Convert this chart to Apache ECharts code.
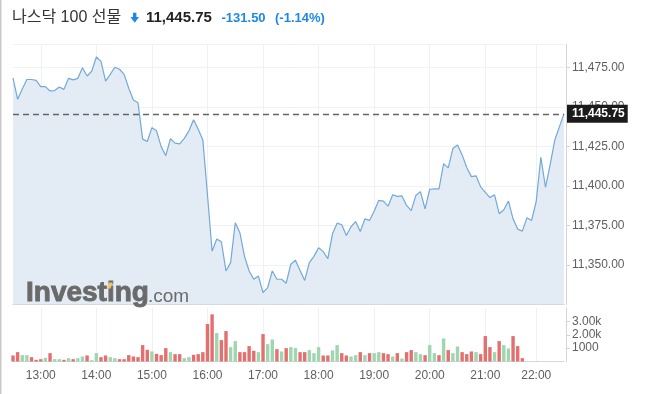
<!DOCTYPE html>
<html>
<head>
<meta charset="utf-8">
<script src="https://cdn.jsdelivr.net/npm/echarts@6/dist/echarts.min.js"></script>
<style>
html,body{margin:0;padding:0;background:#fff;}
#chart{width:649px;height:394px;}
</style>
</head>
<body>
<div id="chart"></div>
<script>
// ---------- data ----------
const titleText = '나스닥 100 선물';
const lastPriceText = '11,445.75';
const changeText = '-131.50';
const changePctText = '(-1.14%)';
const lastPrice = 11445.75;

const times = [
 '12:30','12:35','12:40','12:45','12:50','12:55',
 '13:00','13:05','13:10','13:15','13:20','13:25','13:30','13:35','13:40','13:45','13:50','13:55',
 '14:00','14:05','14:10','14:15','14:20','14:25','14:30','14:35','14:40','14:45','14:50','14:55',
 '15:00','15:05','15:10','15:15','15:20','15:25','15:30','15:35','15:40','15:45','15:50','15:55',
 '16:00','16:05','16:10','16:15','16:20','16:25','16:30','16:35','16:40','16:45','16:50','16:55',
 '17:00','17:05','17:10','17:15','17:20','17:25','17:30','17:35','17:40','17:45','17:50','17:55',
 '18:00','18:05','18:10','18:15','18:20','18:25','18:30','18:35','18:40','18:45','18:50','18:55',
 '19:00','19:05','19:10','19:15','19:20','19:25','19:30','19:35','19:40','19:45','19:50','19:55',
 '20:00','20:05','20:10','20:15','20:20','20:25','20:30','20:35','20:40','20:45','20:50','20:55',
 '21:00','21:05','21:10','21:15','21:20','21:25','21:30','21:35','21:40','21:45','21:55',
 '22:00','22:05','22:10','22:15','22:20','22:25','22:30'
];

const hourLabels = ['13:00','14:00','15:00','16:00','17:00','18:00','19:00','20:00','21:00','22:00'];

const prices = [
 11468.5,11455,11461.5,11467.5,11467.5,11467,
 11463,11463,11460.25,11460.5,11462.75,11461.25,11468.25,11467.25,11468.25,11475,11469.75,11472.75,
 11481.75,11479,11466.5,11470.75,11475.25,11474,11470.75,11462,11454.5,11452.75,11429.75,11428.25,
 11437,11435,11425,11419.25,11430,11427.25,11426.75,11430.25,11435,11442,11436,11429.25,
 11394.5,11358.75,11366.5,11364.75,11346.25,11351.5,11376.75,11370.5,11355.5,11346.25,11341,11343,
 11332.5,11335.75,11346.25,11341,11341,11338.5,11350.5,11353,11346.5,11340.25,11351.5,11355.5,
 11361,11358.5,11354,11369.75,11376.5,11375.5,11368.75,11374.25,11377.5,11371.25,11379.25,11378.25,
 11384,11391,11390.5,11387.25,11394.5,11393.5,11393.75,11387.75,11384.5,11394,11396.5,11385.5,
 11398,11398.25,11398.25,11414.25,11411.5,11423.75,11426,11419.75,11411.75,11406,11406.5,11399.5,
 11396,11392.75,11394.5,11382.5,11385,11390.5,11379.25,11372.75,11371.5,11380,11378.25,
 11390.25,11418.25,11399.25,11413.5,11429,11437.5,11445.75
];

const volumes = [
 450,700,475,475,325,125,175,275,625,175,
 175,125,250,175,250,375,450,100,625,325,
 450,325,250,175,175,475,375,325,1225,875,
 750,575,475,1000,700,550,550,250,325,500,
 550,700,2800,3525,2125,1600,2275,1075,1525,700,
 700,1150,800,700,2050,1300,1650,925,750,1000,
 1075,1000,700,700,850,625,1075,450,450,825,
 1225,625,450,375,475,700,475,625,625,700,
 625,550,375,625,225,700,850,700,550,475,
 1225,625,475,1725,850,625,1125,700,550,750,
 700,550,1900,1075,700,1525,1225,975,1900,1150,
 250
];

// 1 = up bar (green), 0 = down bar (red)
const volumeUp = [
 0,0,1,1,0,0,0,1,0,1,
 1,0,1,0,1,1,0,1,1,0,
 0,1,1,0,0,0,0,0,0,0,
 1,0,0,0,1,0,0,1,1,0,
 0,0,0,0,1,0,0,1,1,0,
 0,0,0,1,0,1,1,0,1,0,
 1,1,0,0,1,1,1,0,0,1,
 1,0,0,1,1,0,1,0,1,1,
 0,0,1,0,1,0,0,1,1,0,
 1,1,0,1,0,1,1,0,0,0,
 1,0,0,0,1,0,1,1,0,0,
 0
];

// ---------- styles ----------
const UP = '#9fd5b0', DOWN = '#e46f6f';
const BLUE = '#1e88e5';
const AXIS_TXT = '#5f5f5f';
const LOGO = '#6a6a6a';
const FONT = '"Liberation Sans", Arial, "Noto Sans CJK KR", sans-serif';

const fmtPrice = v => Number(v).toLocaleString('en-US', {minimumFractionDigits: 2, maximumFractionDigits: 2});
const isHour = (i, v) => hourLabels.includes(v);

const volData = times.map((t, i) => i < volumes.length ? {
  value: volumes[i],
  itemStyle: {color: volumeUp[i] ? UP : DOWN}
} : null);

const chart = echarts.init(document.getElementById('chart'), null, {renderer: 'canvas'});

chart.setOption({
  animation: false,
  backgroundColor: '#fff',
  textStyle: {fontFamily: FONT},
  grid: [
    {left: 13, right: 85, top: 44, height: 260.5},
    {left: 13, right: 85, top: 308, height: 53.5}
  ],
  xAxis: [
    {
      type: 'category', gridIndex: 0, data: times, boundaryGap: false,
      axisLine: {show: true, lineStyle: {color: '#c8c8c8'}},
      axisTick: {show: false},
      axisLabel: {show: false},
      splitLine: {show: true, interval: isHour, lineStyle: {color: '#eef0f2'}}
    },
    {
      type: 'category', gridIndex: 1, data: times, boundaryGap: false,
      axisLine: {show: true, lineStyle: {color: '#d8d8d8'}},
      axisTick: {show: false},
      axisLabel: {show: true, interval: isHour, color: AXIS_TXT, fontSize: 12, margin: 8, fontFamily: FONT},
      splitLine: {show: true, interval: isHour, lineStyle: {color: '#eef0f2'}}
    }
  ],
  yAxis: [
    {
      type: 'value', gridIndex: 0, position: 'right', offset: 2,
      min: 11325, max: 11490, interval: 25,
      axisLine: {show: true, lineStyle: {color: '#d4d4d4'}},
      axisTick: {show: true, length: 4, lineStyle: {color: '#d4d4d4'}},
      axisLabel: {
        show: true, color: AXIS_TXT, fontSize: 12, margin: 6, fontFamily: FONT,
        showMinLabel: false, showMaxLabel: false,
        formatter: v => (v % 25 === 0 ? fmtPrice(v) : '')
      },
      splitLine: {show: true, lineStyle: {color: '#f0f1f3'}}
    },
    {
      type: 'value', gridIndex: 1, position: 'right', offset: 2,
      min: 0, max: 4000, interval: 1000,
      axisLine: {show: true, lineStyle: {color: '#d4d4d4'}},
      axisTick: {show: true, length: 4, lineStyle: {color: '#d4d4d4'}},
      axisLabel: {
        show: true, color: AXIS_TXT, fontSize: 12, margin: 6, fontFamily: FONT,
        showMinLabel: false, showMaxLabel: false,
        formatter: v => (v >= 2000 ? (v / 1000).toFixed(2) + 'k' : String(v))
      },
      splitLine: {show: false}
    }
  ],
  series: [
    {
      type: 'line', xAxisIndex: 0, yAxisIndex: 0, data: prices,
      symbol: 'none', smooth: false,
      lineStyle: {color: '#72a9d9', width: 1.2},
      areaStyle: {color: '#e3ecf4', origin: 'start', opacity: 1},
      markLine: {
        silent: true, symbol: ['none', 'none'],
        lineStyle: {color: '#666', type: [6, 4], width: 1.3},
        label: {
          show: true, position: 'end', distance: 3,
          formatter: p => fmtPrice(p.value),
          backgroundColor: '#1b1b1b', color: '#fff', fontWeight: 'bold',
          fontSize: 12, fontFamily: FONT, padding: [3, 3, 3, 5]
        },
        data: [{yAxis: lastPrice}]
      },
      z: 2
    },
    {
      type: 'bar', xAxisIndex: 1, yAxisIndex: 1, data: volData,
      barWidth: 3.4
    }
  ],
  graphic: [
    {type: 'rect', shape: {x: 0, y: 0, width: 1.5, height: 394}, style: {fill: '#c9c9c9'}, z: 100},
    {type: 'text', x: 12, y: 17.5, style: {text: titleText, font: '16px ' + FONT, fill: '#333', textVerticalAlign: 'middle'}, z: 100},
    {type: 'polygon', shape: {points: [[133,12.8],[136.4,12.8],[136.4,17],[139,17],[134.7,22.8],[130.4,17],[133,17]]}, style: {fill: BLUE}, z: 100},
    {type: 'text', x: 146, y: 17.5, style: {text: lastPriceText, font: 'bold 15px ' + FONT, fill: '#222', textVerticalAlign: 'middle'}, z: 100},
    {type: 'text', x: 221.5, y: 18, style: {text: changeText, font: 'bold 13px ' + FONT, fill: BLUE, textVerticalAlign: 'middle'}, z: 100},
    {type: 'text', x: 275, y: 18, style: {text: changePctText, font: 'bold 13px ' + FONT, fill: BLUE, textVerticalAlign: 'middle'}, z: 100},
    {type: 'text', x: 26, y: 293.5, style: {text: 'Investing', font: 'bold 28px ' + FONT, fill: LOGO, stroke: LOGO, lineWidth: 0.9, textVerticalAlign: 'middle'}, z: 50},
    {type: 'text', x: 148, y: 296.5, style: {text: '.com', font: '19px ' + FONT, fill: LOGO, textVerticalAlign: 'middle'}, z: 50},
    {type: 'polygon', shape: {points: [[107,288.5],[109,282.6],[112.6,282.6],[110.6,288.5]]}, style: {fill: '#f0c46c'}, z: 51}
  ]
});
</script>
</body>
</html>
